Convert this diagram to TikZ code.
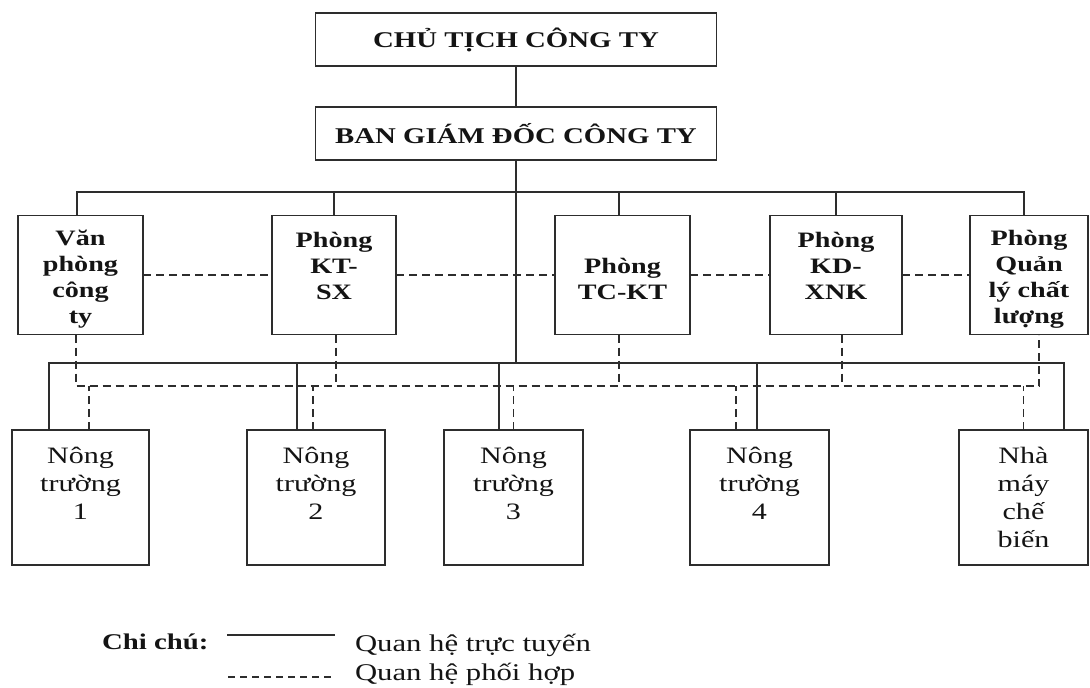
\documentclass[tikz,border=0pt]{standalone}
\usepackage{fontspec}
\setmainfont{Liberation Serif}[FakeStretch=1.28]
\definecolor{lc}{RGB}{45,45,45}
\definecolor{tc}{RGB}{20,20,20}
\newcommand{\topgap}{\rule{0pt}{23pt}}
\begin{document}
\begin{tikzpicture}[x=1pt,y=-1pt,
  every node/.style={inner sep=0pt,outer sep=0pt,text=tc},
  box/.style={draw=lc,line width=1.9pt,align=center},
  headbox/.style={box,minimum width=401pt,minimum height=53pt,font=\bfseries\fontsize{22.5}{26}\selectfont},
  midbox/.style={box,minimum height=119pt,font=\bfseries\fontsize{22}{26}\selectfont},
  lowbox/.style={box,minimum height=135pt,font=\fontsize{23.5}{28}\selectfont},
  conn/.style={draw=lc,line width=1.8pt},
  coop/.style={draw=lc,line width=1.8pt,dash pattern=on 8pt off 5pt}
]
\useasboundingbox (0,0) rectangle (1090,688);

% top
\node[headbox] (chu) at (516,39.5) {CHỦ TỊCH CÔNG TY};
\node[headbox] (ban) at (516,133.5) {BAN GIÁM ĐỐC CÔNG TY};

% middle row
\node[midbox,minimum width=125pt] (vp) at (80.5,275) {\topgap Văn\\phòng\\công\\ty};
\node[midbox,minimum width=124pt] (ktsx) at (334,275) {\topgap Phòng\\KT-\\SX\\~};
\node[midbox,minimum width=135pt] (tckt) at (622.5,275) {\topgap Phòng\\TC-KT};
\node[midbox,minimum width=132pt] (kd) at (836,275) {\topgap Phòng\\KD-\\XNK\\~};
\node[midbox,minimum width=118pt] (ql) at (1029,275) {\topgap Phòng\\Quản\\lý chất\\lượng};

% bottom row
\node[lowbox,minimum width=137pt] (nt1) at (80.5,497.5) {Nông\\trường\\1\\~};
\node[lowbox,minimum width=138pt] (nt2) at (316,497.5) {Nông\\trường\\2\\~};
\node[lowbox,minimum width=139pt] (nt3) at (513.5,497.5) {Nông\\trường\\3\\~};
\node[lowbox,minimum width=139pt] (nt4) at (759.5,497.5) {Nông\\trường\\4\\~};
\node[lowbox,minimum width=129pt] (nm) at (1023.5,497.5) {Nhà\\máy\\chế\\biến};

% bus levels
\coordinate (tb) at (0,192);
\coordinate (lb) at (0,363);
\coordinate (db) at (0,386);

% solid lines
\draw[conn] (chu.south) -- (ban.north);
\draw[conn] (ban.south) -- (ban.south |- lb);
\draw[conn] ([xshift=-3.5pt]vp.north) |- ([xshift=-5pt]ql.north |- tb) -- ([xshift=-5pt]ql.north);
\draw[conn] (ktsx.north) -- (ktsx.north |- tb);
\draw[conn] ([xshift=-3.5pt]tckt.north) -- ([xshift=-3.5pt]tckt.north |- tb);
\draw[conn] (kd.north) -- (kd.north |- tb);
\draw[conn] ([xshift=-31.5pt]nt1.north) |- ([xshift=40.5pt]nm.north |- lb) -- ([xshift=40.5pt]nm.north);
\draw[conn] ([xshift=-19pt]nt2.north) -- ([xshift=-19pt]nt2.north |- lb);
\draw[conn] ([xshift=-14.5pt]nt3.north) -- ([xshift=-14.5pt]nt3.north |- lb);
\draw[conn] ([xshift=-2.5pt]nt4.north) -- ([xshift=-2.5pt]nt4.north |- lb);

% dashed lines
\draw[coop] (vp.east) -- (ktsx.west);
\draw[coop] (ktsx.east) -- (tckt.west);
\draw[coop] (tckt.east) -- (kd.west);
\draw[coop] (kd.east) -- (ql.west);
\draw[coop] ([xshift=-4.5pt]vp.south) |- ([xshift=10pt]ql.south |- db) -- ([xshift=10pt]ql.south);
\draw[coop] ([xshift=2pt]ktsx.south) -- ([xshift=2pt]ktsx.south |- db);
\draw[coop] ([xshift=-3.5pt]tckt.south) -- ([xshift=-3.5pt]tckt.south |- db);
\draw[coop] ([xshift=6pt]kd.south) -- ([xshift=6pt]kd.south |- db);
\draw[coop] ([xshift=8.5pt]nt1.north) -- ([xshift=8.5pt]nt1.north |- db);
\draw[coop] ([xshift=-3pt]nt2.north) -- ([xshift=-3pt]nt2.north |- db);
\draw[coop] (nt3.north) -- (nt3.north |- db);
\draw[coop] ([xshift=-23.5pt]nt4.north) -- ([xshift=-23.5pt]nt4.north |- db);
\draw[coop] (nm.north) -- (nm.north |- db);

% legend
\node[anchor=base west,font=\bfseries\fontsize{22.5}{26}\selectfont] (chi) at (102,649) {Chi chú:};
\coordinate (s1) at (227,635);
\coordinate (s2) at (335,635);
\draw[conn,line width=1.5pt] (s1) -- (s2);
\node[anchor=base west,font=\fontsize{24}{28}\selectfont] (q1) at (355,651) {Quan hệ trực tuyến};
\coordinate (d1) at (228,677);
\coordinate (d2) at (335,677);
\draw[conn,line width=1.5pt,dash pattern=on 7pt off 5pt] (d1) -- (d2);
\node[anchor=base west,font=\fontsize{24}{28}\selectfont] (q2) at (355,680) {Quan hệ phối hợp};
\end{tikzpicture}
\end{document}
